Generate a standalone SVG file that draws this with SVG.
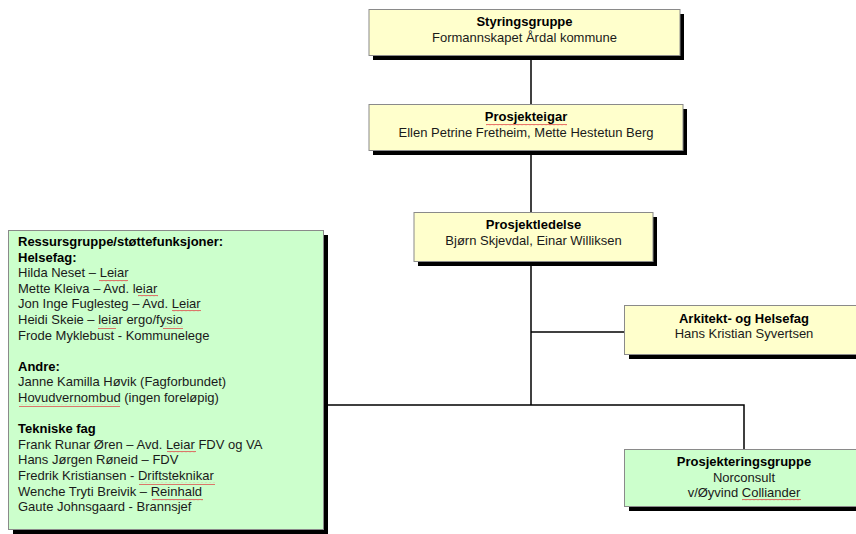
<svg xmlns="http://www.w3.org/2000/svg" width="856" height="534" viewBox="0 0 856 534">
<style>
.box{stroke:#8a8a8a;stroke-width:1}
.y{fill:#ffffcc}
.g{fill:#ccffcc}
.sh{fill:#000}
text{font-family:"Liberation Sans",Arial,sans-serif;font-size:13px;fill:#1a1a1a}
.b{font-weight:bold;fill:#000}
.c{text-anchor:middle}
.con{fill:none;stroke:#000;stroke-width:1.5}
.sq{fill:url(#sq)}
</style>
<defs>
<pattern id="sq" width="4" height="3" patternUnits="userSpaceOnUse">
<path d="M0,2.2 L1,1 L2,2.2 L3,1 L4,2.2" fill="none" stroke="#e04848" stroke-width="0.8"/>
</pattern>
</defs>
<rect width="856" height="534" fill="#fff"/>
<g id="connectors">
<path class="con" d="M531,59 V105"/>
<path class="con" d="M531,154 V213"/>
<path class="con" d="M531,266 V405"/>
<path class="con" d="M531,332 H625"/>
<path class="con" d="M323,405 H744 V449"/>
</g>
<g id="styringsgruppe">
<rect class="sh" x="373" y="14" width="311" height="46"/>
<rect class="box y" x="369" y="9.5" width="311" height="46"/>
<text class="b c" x="524.5" y="26">Styringsgruppe</text>
<text class="c" x="524.5" y="42">Formannskapet Årdal kommune</text>
</g>
<g id="prosjekteigar">
<rect class="sh" x="373" y="109" width="314" height="46"/>
<rect class="box y" x="369" y="104.5" width="314" height="46"/>
<text class="b c" x="526" y="121">Prosjekteigar</text>
<text class="c" x="526" y="137">Ellen Petrine Fretheim, Mette Hestetun Berg</text>
<rect class="sq" x="486" y="123" width="81" height="3"/>
</g>
<g id="prosjektledelse">
<rect class="sh" x="418" y="217" width="239" height="49"/>
<rect class="box y" x="414" y="212.5" width="239" height="49"/>
<text class="b c" x="533.5" y="229">Prosjektledelse</text>
<text class="c" x="533.5" y="245">Bjørn Skjevdal, Einar Williksen</text>
</g>
<g id="ressursgruppe">
<rect class="sh" x="13" y="235" width="315" height="299"/>
<rect class="box g" x="8.5" y="230.5" width="315" height="299"/>
<text x="18" y="246"><tspan class="b">Ressursgruppe/støttefunksjoner:</tspan><tspan class="b" x="18" dy="15.6">Helsefag:</tspan><tspan x="18" dy="15.6">Hilda Neset – Leiar</tspan><tspan x="18" dy="15.6">Mette Kleiva – Avd. leiar</tspan><tspan x="18" dy="15.6">Jon Inge Fuglesteg – Avd. Leiar</tspan><tspan x="18" dy="15.6">Heidi Skeie – leiar ergo/fysio</tspan><tspan x="18" dy="15.6">Frode Myklebust - Kommunelege</tspan><tspan class="b" x="18" dy="31.2">Andre:</tspan><tspan x="18" dy="15.6">Janne Kamilla Høvik (Fagforbundet)</tspan><tspan x="18" dy="15.6">Hovudvernombud (ingen foreløpig)</tspan><tspan class="b" x="18" dy="31.2">Tekniske fag</tspan><tspan x="18" dy="15.6">Frank Runar Øren – Avd. Leiar FDV og VA</tspan><tspan x="18" dy="15.6">Hans Jørgen Røneid – FDV</tspan><tspan x="18" dy="15.6">Fredrik Kristiansen - Driftsteknikar</tspan><tspan x="18" dy="15.6">Wenche Tryti Breivik – Reinhald</tspan><tspan x="18" dy="15.6">Gaute Johnsgaard - Brannsjef</tspan></text>
<rect class="sq" x="99" y="279" width="29" height="3"/>
<rect class="sq" x="138" y="295" width="20" height="3"/>
<rect class="sq" x="172" y="310" width="29" height="3"/>
<rect class="sq" x="98" y="326" width="18" height="3"/>
<rect class="sq" x="163" y="326" width="20" height="3"/>
<rect class="sq" x="19" y="404" width="101" height="3"/>
<rect class="sq" x="167" y="451" width="29" height="3"/>
<rect class="sq" x="139" y="482" width="76" height="3"/>
<rect class="sq" x="152" y="498" width="51" height="3"/>
</g>
<g id="arkitekt">
<rect class="sh" x="629" y="310" width="240" height="49"/>
<rect class="box y" x="624.5" y="305.5" width="240" height="49"/>
<text class="b c" x="744" y="323">Arkitekt- og Helsefag</text>
<text class="c" x="744" y="338">Hans Kristian Syvertsen</text>
</g>
<g id="prosjekteringsgruppe">
<rect class="sh" x="629" y="454" width="240" height="57"/>
<rect class="box g" x="624.5" y="449.5" width="240" height="57"/>
<text class="b c" x="744" y="466">Prosjekteringsgruppe</text>
<text class="c" x="744" y="482">Norconsult</text>
<text class="c" x="744" y="497">v/Øyvind Colliander</text>
<rect class="sq" x="742" y="499" width="59" height="3"/>
</g>
</svg>
